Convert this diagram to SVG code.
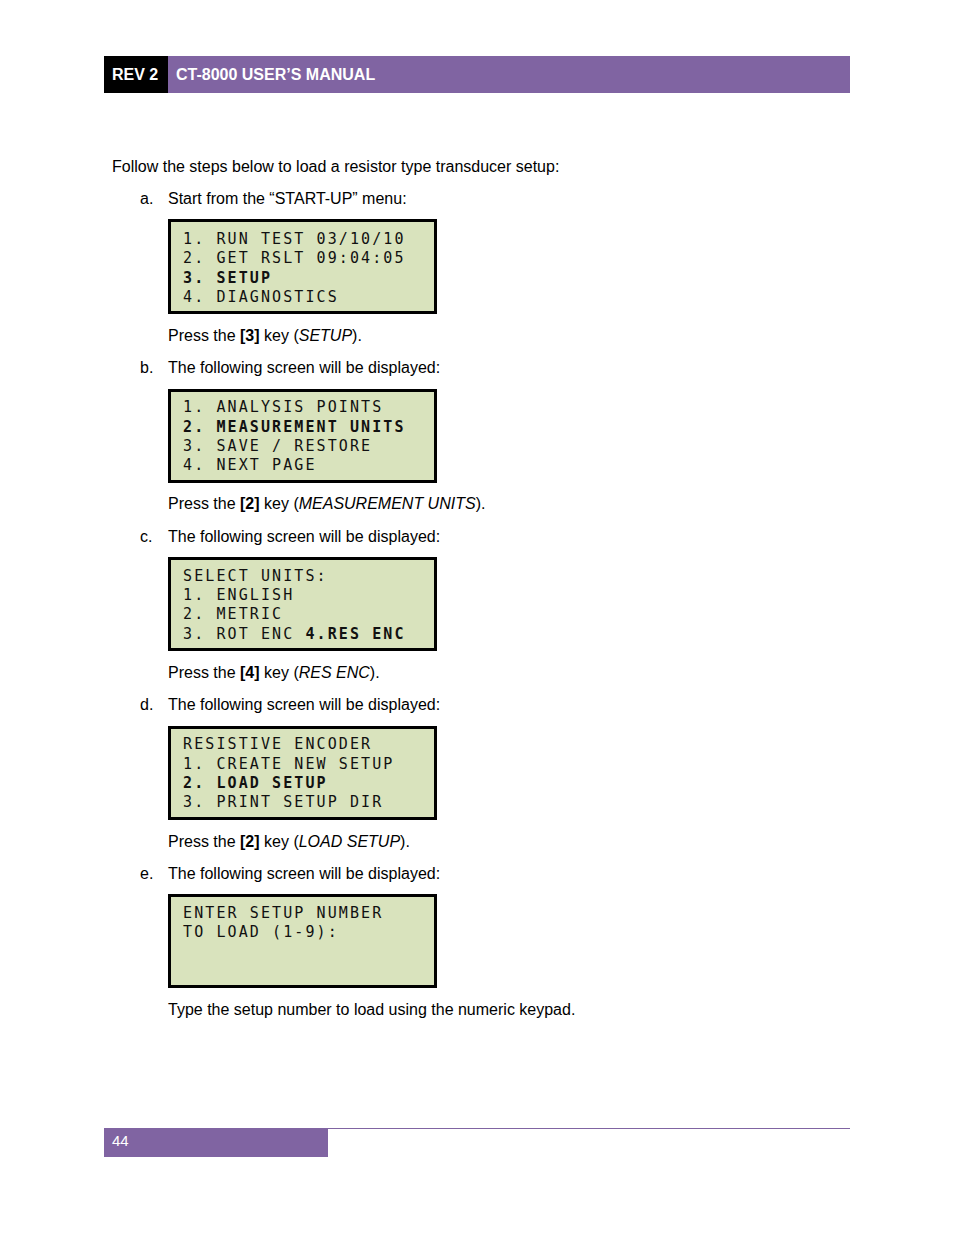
<svg xmlns="http://www.w3.org/2000/svg" width="954" height="1235" viewBox="0 0 954 1235">
<style>
.t{font-family:"Liberation Sans",Arial,sans-serif;font-size:16px;fill:#000}
.lcd{fill:#d9e3bd;stroke:#000;stroke-width:3}
.m{font-family:"DejaVu Sans Mono","Liberation Mono",monospace;font-size:15px;fill:#111;letter-spacing:2.1px}
.b{font-weight:bold}
</style>
<rect width="954" height="1235" fill="#fff"/>
<g id="header">
<rect x="104" y="56" width="64" height="37" fill="#000"/>
<rect x="168" y="56" width="682" height="37" fill="#8064a2"/>
<text x="112" y="80" class="t b" fill="#fff" style="fill:#fff">REV 2</text>
<text x="176" y="80" class="t b" style="fill:#fff">CT-8000 USER’S MANUAL</text>
</g>
<text x="112" y="172" class="t">Follow the steps below to load a resistor type transducer setup:</text>
<text x="140" y="204" class="t">a.</text><text x="168" y="204" class="t">Start from the “START-UP” menu:</text>
<g id="lcd1"><rect x="169.5" y="220.5" width="266" height="92" class="lcd"/>
<text x="183" y="244" class="m">1. RUN TEST  03/10/10</text>
<text x="183" y="263" class="m">2. GET RSLT  09:04:05</text>
<text x="183" y="283" class="m b">3. SETUP</text>
<text x="183" y="302" class="m">4. DIAGNOSTICS</text></g>
<text x="168" y="341" class="t">Press the <tspan class="b">[3]</tspan> key (<tspan font-style="italic">SETUP</tspan>).</text>
<text x="140" y="373" class="t">b.</text><text x="168" y="373" class="t">The following screen will be displayed:</text>
<g id="lcd2"><rect x="169.5" y="390.5" width="266" height="91" class="lcd"/>
<text x="183" y="412" class="m">1. ANALYSIS POINTS</text>
<text x="183" y="432" class="m b">2. MEASUREMENT UNITS</text>
<text x="183" y="451" class="m">3. SAVE / RESTORE</text>
<text x="183" y="470" class="m">4. NEXT PAGE</text></g>
<text x="168" y="509" class="t">Press the <tspan class="b">[2]</tspan> key (<tspan font-style="italic">MEASUREMENT UNITS</tspan>).</text>
<text x="140" y="542" class="t">c.</text><text x="168" y="542" class="t">The following screen will be displayed:</text>
<g id="lcd3"><rect x="169.5" y="558.5" width="266" height="91" class="lcd"/>
<text x="183" y="581" class="m">SELECT UNITS:</text>
<text x="183" y="600" class="m">1. ENGLISH</text>
<text x="183" y="619" class="m">2. METRIC</text>
<text x="183" y="639" class="m">3. ROT ENC  <tspan class="b">4.RES ENC</tspan></text></g>
<text x="168" y="678" class="t">Press the <tspan class="b">[4]</tspan> key (<tspan font-style="italic">RES ENC</tspan>).</text>
<text x="140" y="710" class="t">d.</text><text x="168" y="710" class="t">The following screen will be displayed:</text>
<g id="lcd4"><rect x="169.5" y="727.5" width="266" height="91" class="lcd"/>
<text x="183" y="749" class="m">RESISTIVE ENCODER</text>
<text x="183" y="769" class="m">1. CREATE NEW SETUP</text>
<text x="183" y="788" class="m b">2. LOAD SETUP</text>
<text x="183" y="807" class="m">3. PRINT SETUP DIR</text></g>
<text x="168" y="847" class="t">Press the <tspan class="b">[2]</tspan> key (<tspan font-style="italic">LOAD SETUP</tspan>).</text>
<text x="140" y="879" class="t">e.</text><text x="168" y="879" class="t">The following screen will be displayed:</text>
<g id="lcd5"><rect x="169.5" y="895.5" width="266" height="91" class="lcd"/>
<text x="183" y="918" class="m">ENTER SETUP NUMBER</text>
<text x="183" y="937" class="m"> TO LOAD (1-9):</text></g>
<text x="168" y="1015" class="t">Type the setup number to load using the numeric keypad.</text>
<g id="footer">
<line x1="104" y1="1128.5" x2="850" y2="1128.5" stroke="#8064a2" stroke-width="1"/>
<rect x="104" y="1128" width="224" height="29" fill="#8064a2"/>
<text x="112" y="1146" class="t" style="fill:#fff;font-size:15px">44</text>
</g>
</svg>
